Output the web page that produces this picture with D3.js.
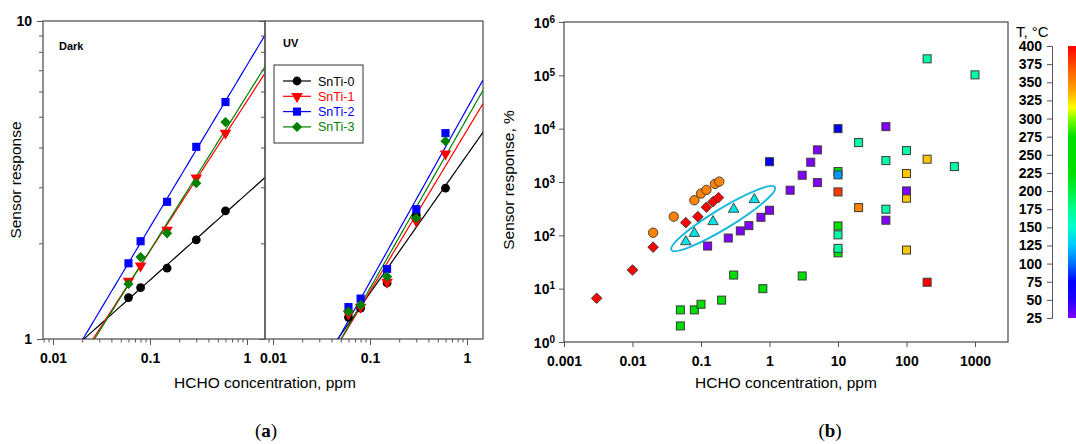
<!DOCTYPE html>
<html>
<head>
<meta charset="utf-8">
<script src="https://cdn.jsdelivr.net/npm/d3@7"></script>
<style>
  body { margin: 0; background: #fff; }
  svg { font-family: "Liberation Sans", Arial, sans-serif; }
  .tick text { font-weight: bold; font-size: 14px; fill: #000; }
</style>
</head>
<body>
<svg id="chart" width="1076" height="444"></svg>
<script>
// ---- panel (a) data: concentration (ppm) and sensor response ----
var conc = [0.06, 0.08, 0.15, 0.3, 0.6]
var seriesNames = ["SnTi-0", "SnTi-1", "SnTi-2", "SnTi-3"]
var darkS0 = [1.35, 1.45, 1.67, 2.05, 2.53]
var darkS1 = [1.52, 1.70, 2.20, 3.21, 4.44]
var darkS2 = [1.73, 2.03, 2.70, 4.02, 5.56]
var darkS3 = [1.49, 1.81, 2.15, 3.09, 4.81]
var uvS0 = [1.17, 1.25, 1.50, 2.45, 2.98]
var uvS1 = [1.20, 1.26, 1.51, 2.35, 3.82]
var uvS2 = [1.26, 1.34, 1.66, 2.56, 4.44]
var uvS3 = [1.22, 1.28, 1.57, 2.40, 4.19]

// ---- panel (b) data: literature comparison, x ppm, y %, T in °C ----
var sqX = [0.05, 0.05, 0.08, 0.1, 0.2, 0.3, 0.8, 3, 10, 10, 10,
           200, 100, 100, 100,
           1, 10, 200, 1000, 20, 100, 50, 500, 50, 10, 10,
           10, 20, 10, 200,
           0.125, 0.25, 0.375, 0.5, 0.75, 1, 2, 3, 4, 5, 5, 50, 50, 100]
var sqY = [4, 2, 4, 5.1, 6.1, 18, 10, 17.3, 1570, 150, 47,
           2680, 1440, 497, 53,
           2400, 10000, 204000, 102000, 5490, 3880, 2520, 1945, 309, 102, 57,
           1360, 331, 652, 13.2,
           63, 89, 121, 152, 218, 295, 702, 1340, 2350, 4000, 975, 10900, 192, 681]
var sqT = [250, 250, 250, 250, 250, 250, 250, 250, 250, 250, 250,
           330, 330, 330, 330,
           75, 75, 168, 168, 168, 168, 168, 168, 168, 168, 168,
           112, 352, 380, 400,
           25, 25, 25, 25, 25, 25, 25, 25, 25, 25, 25, 25, 25, 25]
var diaX = [0.003, 0.01, 0.02, 0.06, 0.09, 0.12, 0.15, 0.18]
var diaY = [6.6, 22.4, 60, 173, 224, 337, 428, 510]
var diaT = 400
var cirX = [0.02, 0.04, 0.08, 0.1, 0.12, 0.16, 0.185]
var cirY = [112, 224, 455, 606, 711, 921, 1018]
var cirT = 352
var triX = [0.06, 0.08, 0.15, 0.3, 0.6]
var triY = [76, 109, 181, 309, 468]
var triT = 138
// ellipse drawn round the triangles: end points in data space
var ellipseEnds = [[0.037, 53], [1.2, 799]]

// colour bar
var tempTicks = [25, 50, 75, 100, 125, 150, 175, 200, 225, 250, 275, 300, 325, 350, 375, 400]
var tempStops = [25, 50, 75, 100, 125, 150, 175, 200, 225, 275, 300, 315, 340, 360, 400]
var tempColors = ["#8000ff", "#2000ff", "#0000ff", "#0070ff", "#00c8ff", "#00ffd0", "#00ff90",
                  "#00f040", "#00e000", "#00e000", "#80ff00", "#ffff00", "#ffa000", "#ff7000", "#ff0000"]

var svg = d3.select("#chart")
var axisColor = "#555"

var tcolor = d3.scaleLinear().domain(tempStops).range(tempColors)

function isMajor(d){
  var l = Math.log10(d)
  return Math.abs(l - Math.round(l)) < 1e-6
}

// diamond = square turned 45 degrees
var diamondPath = function(size){ return d3.symbol().type(d3.symbolSquare).size(size)() }

// ================= panel (a) =================
var yA = d3.scaleLog().domain([1, 10]).range([339, 21])
var xDark = d3.scaleLog().domain([Math.pow(10, -2 - 10/97), Math.pow(10, 18/97)]).range([43, 265])
var xUV = d3.scaleLog().domain([Math.pow(10, -2 - 8/97), Math.pow(10, 16/97)]).range([265, 483])

var colorsA = ["#000000", "#ff0000", "#0000ff", "#008000"]

function markerA(g, i, cx, cy){
  var tr = "translate(" + cx + "," + cy + ")"
  if (i == 0){
    return g.append("circle").attr("cx", cx).attr("cy", cy).attr("r", 4.4).attr("fill", colorsA[i])
  }
  if (i == 1){
    return g.append("path").attr("d", d3.symbol().type(d3.symbolTriangle).size(58)())
      .attr("fill", colorsA[i]).attr("transform", tr + " rotate(180)")
  }
  if (i == 2){
    return g.append("path").attr("d", d3.symbol().type(d3.symbolSquare).size(66)())
      .attr("fill", colorsA[i]).attr("transform", tr)
  }
  return g.append("path").attr("d", diamondPath(52))
    .attr("fill", colorsA[i]).attr("transform", tr + " rotate(45)")
}

function fitLine(xs, ys){
  var lx = xs.map(Math.log10), ly = ys.map(Math.log10)
  var mx = d3.mean(lx), my = d3.mean(ly)
  var sxy = d3.sum(lx, function(v, k){ return (v - mx) * (ly[k] - my) })
  var sxx = d3.sum(lx, function(v){ return (v - mx) * (v - mx) })
  var b = sxy / sxx
  return function(x){ return Math.pow(10, my + b * (Math.log10(x) - mx)) }
}

function drawPanelA(x, sets, clipId, label, labelX, labelY, leftLabels){
  svg.append("defs").append("clipPath").attr("id", clipId)
    .append("rect")
    .attr("x", x.range()[0]).attr("y", yA.range()[1])
    .attr("width", x.range()[1] - x.range()[0])
    .attr("height", yA.range()[0] - yA.range()[1])

  var ticks = x.ticks()
  var xAxis = d3.axisBottom(x).tickValues(ticks)
    .tickFormat(function(d){ return isMajor(d) ? String(d) : "" })
    .tickSizeOuter(0).tickSize(6).tickPadding(8)
  var gx = svg.append("g").attr("transform", "translate(0," + yA.range()[0] + ")").call(xAxis)
  gx.select(".domain").remove()
  gx.selectAll(".tick line").attr("stroke", axisColor).attr("y2", function(d){ return isMajor(d) ? 6 : 3.5 })

  var yAxis = d3.axisLeft(yA).tickValues([1,2,3,4,5,6,7,8,9,10])
    .tickFormat(function(d){ return (leftLabels && isMajor(d)) ? String(d) : "" })
    .tickSizeOuter(0).tickSize(6).tickPadding(5)
  var gy = svg.append("g").attr("transform", "translate(" + x.range()[0] + ",0)").call(yAxis)
  gy.select(".domain").remove()
  gy.selectAll(".tick line").attr("stroke", axisColor).attr("x2", function(d){ return isMajor(d) ? -6 : -4 })

  svg.append("rect")
    .attr("x", x.range()[0]).attr("y", yA.range()[1])
    .attr("width", x.range()[1] - x.range()[0])
    .attr("height", yA.range()[0] - yA.range()[1])
    .attr("fill", "none").attr("stroke", axisColor).attr("stroke-width", 1.3)

  var plot = svg.append("g").attr("clip-path", "url(#" + clipId + ")")
  var xs = d3.range(0, 101).map(function(k){
    var d = x.domain()
    return Math.pow(10, Math.log10(d[0]) + k / 100 * (Math.log10(d[1]) - Math.log10(d[0])))
  })
  sets.forEach(function(ys, i){
    var f = fitLine(conc, ys)
    plot.append("path")
      .attr("d", d3.line().x(function(v){ return x(v) }).y(function(v){ return yA(f(v)) })(xs))
      .attr("fill", "none").attr("stroke", colorsA[i]).attr("stroke-width", 1.2)
  })
  var pts = svg.append("g")
  sets.forEach(function(ys, i){
    ys.forEach(function(v, k){ markerA(pts, i, x(conc[k]), yA(v)) })
  })

  svg.append("text").attr("x", labelX).attr("y", labelY)
    .attr("font-size", 11).attr("font-weight", "bold").text(label)
}

drawPanelA(xDark, [darkS0, darkS1, darkS2, darkS3], "clipDark", "Dark", 59, 50, true)
drawPanelA(xUV, [uvS0, uvS1, uvS2, uvS3], "clipUV", "UV", 283, 47, false)

// legend
var legend = svg.append("g")
legend.append("rect").attr("x", 274).attr("y", 65).attr("width", 89).attr("height", 78)
  .attr("fill", "#fff").attr("stroke", "#333").attr("stroke-width", 1)
seriesNames.forEach(function(name, i){
  var ly = 81 + i * 15.3
  legend.append("line").attr("x1", 283).attr("x2", 311).attr("y1", ly).attr("y2", ly)
    .attr("stroke", colorsA[i]).attr("stroke-width", 1.2)
  markerA(legend, i, 297, ly)
  legend.append("text").attr("x", 318).attr("y", ly).attr("dy", "0.36em")
    .attr("font-size", 12.5).attr("fill", colorsA[i]).text(name)
})

svg.append("text").attr("transform", "translate(21,180) rotate(-90)")
  .attr("text-anchor", "middle").attr("font-size", 15.5).text("Sensor response")
svg.append("text").attr("x", 265).attr("y", 388)
  .attr("text-anchor", "middle").attr("font-size", 15.5).text("HCHO concentration, ppm")

// ================= panel (b) =================
var xB = d3.scaleLog().domain([0.001, Math.pow(10, 3 + 33/68.5)]).range([564, 1008])
var yB = d3.scaleLog().domain([1, 1e6]).range([342, 22])

var gxB = svg.append("g").attr("transform", "translate(0,342)")
  .call(d3.axisBottom(xB).tickValues([0.001, 0.01, 0.1, 1, 10, 100, 1000])
    .tickFormat(function(d){ return String(d) }).tickSizeOuter(0).tickSize(5).tickPadding(9))
gxB.select(".domain").remove()
gxB.selectAll(".tick line").attr("stroke", axisColor)

var gyB = svg.append("g").attr("transform", "translate(564,0)")
  .call(d3.axisLeft(yB).tickValues([1, 10, 100, 1e3, 1e4, 1e5, 1e6])
    .tickFormat("").tickSizeOuter(0).tickSize(5))
gyB.select(".domain").remove()
gyB.selectAll(".tick line").attr("stroke", axisColor)
gyB.selectAll(".tick").each(function(d){
  var t = d3.select(this).append("text").attr("x", -9).attr("dy", "0.36em")
    .attr("text-anchor", "end").attr("fill", "#000")
  t.append("tspan").text("10")
  t.append("tspan").attr("dy", "-0.5em").attr("font-size", 10).text(Math.round(Math.log10(d)))
})

svg.append("rect").attr("x", 564).attr("y", 22).attr("width", 444).attr("height", 320)
  .attr("fill", "none").attr("stroke", axisColor).attr("stroke-width", 1.3)

var pb = svg.append("g")
var stroke = "#3a3a3a"

// ellipse round the triangles
var e0 = [xB(ellipseEnds[0][0]), yB(ellipseEnds[0][1])]
var e1 = [xB(ellipseEnds[1][0]), yB(ellipseEnds[1][1])]
var ecx = (e0[0] + e1[0]) / 2, ecy = (e0[1] + e1[1]) / 2
var erx = Math.hypot(e1[0] - e0[0], e1[1] - e0[1]) / 2
var eang = Math.atan2(e1[1] - e0[1], e1[0] - e0[0]) * 180 / Math.PI
pb.append("ellipse").attr("cx", 0).attr("cy", 0).attr("rx", erx).attr("ry", 10)
  .attr("transform", "translate(" + ecx + "," + ecy + ") rotate(" + eang + ")")
  .attr("fill", "none").attr("stroke", "#19b8dc").attr("stroke-width", 2)

cirX.forEach(function(v, k){
  pb.append("circle").attr("cx", xB(v)).attr("cy", yB(cirY[k])).attr("r", 4.7)
    .attr("fill", tcolor(cirT)).attr("stroke", stroke).attr("stroke-width", 0.9)
})
diaX.forEach(function(v, k){
  pb.append("path").attr("d", diamondPath(56))
    .attr("transform", "translate(" + xB(v) + "," + yB(diaY[k]) + ") rotate(45)")
    .attr("fill", tcolor(diaT)).attr("stroke", stroke).attr("stroke-width", 0.9)
})
triX.forEach(function(v, k){
  pb.append("path").attr("d", d3.symbol().type(d3.symbolTriangle).size(48)())
    .attr("transform", "translate(" + xB(v) + "," + yB(triY[k]) + ")")
    .attr("fill", tcolor(triT)).attr("stroke", stroke).attr("stroke-width", 0.9)
})
sqX.forEach(function(v, k){
  pb.append("rect").attr("x", xB(v) - 4).attr("y", yB(sqY[k]) - 4).attr("width", 8).attr("height", 8)
    .attr("fill", tcolor(sqT[k])).attr("stroke", stroke).attr("stroke-width", 1)
})

svg.append("text").attr("transform", "translate(514,180) rotate(-90)")
  .attr("text-anchor", "middle").attr("font-size", 15.5).text("Sensor response, %")
svg.append("text").attr("x", 786).attr("y", 388)
  .attr("text-anchor", "middle").attr("font-size", 15.5).text("HCHO concentration, ppm")

// colour bar
var yT = d3.scaleLinear().domain([25, 400]).range([318, 46])
var grad = svg.append("defs").append("linearGradient").attr("id", "tgrad")
  .attr("x1", 0).attr("y1", 1).attr("x2", 0).attr("y2", 0)
tempStops.forEach(function(t, k){
  grad.append("stop").attr("offset", (t - 25) / 375).attr("stop-color", tempColors[k])
})
svg.append("rect").attr("x", 1068).attr("y", 46).attr("width", 12).attr("height", 272)
  .attr("fill", "url(#tgrad)")
var gT = svg.append("g").attr("transform", "translate(1052,0)")
  .call(d3.axisLeft(yT).tickValues(tempTicks).tickSizeOuter(0).tickSize(5).tickPadding(5))
gT.select(".domain").attr("stroke", axisColor)
gT.selectAll(".tick line").attr("stroke", axisColor)
gT.selectAll(".tick text").attr("font-size", 13)
svg.append("text").attr("x", 1016).attr("y", 37).attr("font-size", 15).text("T, \u00b0C")

// panel letters
function panelLetter(x, letter){
  var t = svg.append("text").attr("x", x).attr("y", 437).attr("text-anchor", "middle")
    .attr("font-family", "'Liberation Serif', 'Times New Roman', serif").attr("font-size", 19)
  t.append("tspan").text("(")
  t.append("tspan").attr("font-weight", "bold").text(letter)
  t.append("tspan").text(")")
}
panelLetter(266, "a")
panelLetter(830, "b")
</script>
</body>
</html>
